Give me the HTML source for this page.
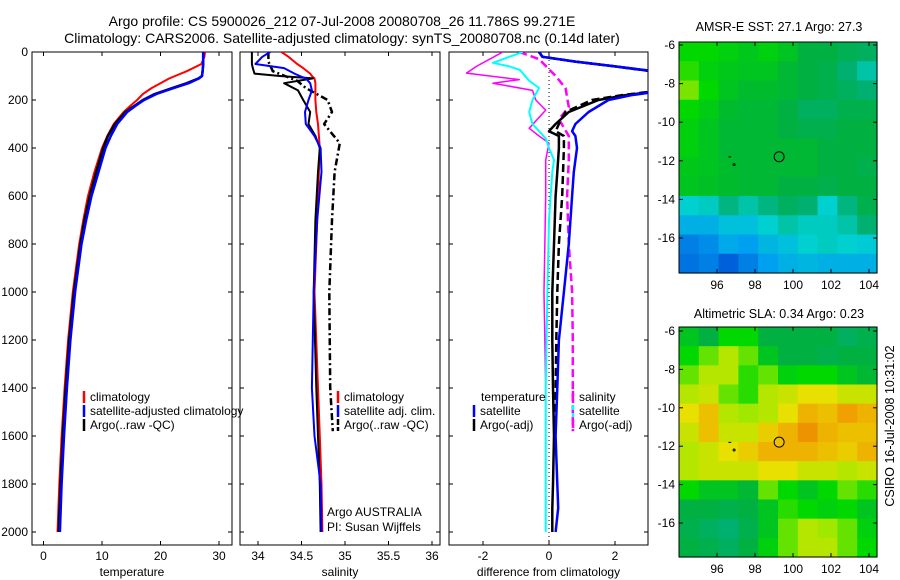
<!DOCTYPE html>
<html><head><meta charset="utf-8"><style>
body{margin:0;background:#fff;}
svg{display:block;font-family:"Liberation Sans",sans-serif;}
</style></head><body>
<svg id="c" width="900" height="580" viewBox="0 0 900 580" xmlns="http://www.w3.org/2000/svg">
<text x="342" y="26" font-size="14" text-anchor="middle">Argo profile: CS 5900026_212 07-Jul-2008 20080708_26 11.786S 99.271E</text>
<text x="342" y="43" font-size="14" text-anchor="middle">Climatology: CARS2006. Satellite-adjusted climatology: synTS_20080708.nc (0.14d later)</text>
<text x="779" y="31" font-size="12.5" text-anchor="middle">AMSR-E SST: 27.1 Argo: 27.3</text>
<text x="779" y="318" font-size="12.5" text-anchor="middle">Altimetric SLA: 0.34 Argo: 0.23</text>
<text transform="translate(894,426) rotate(-90)" font-size="12.5" text-anchor="middle">CSIRO 16-Jul-2008 10:31:02</text>
<g id="g"></g>
</svg>
<script>
// ---- data ----
const depthT = [0,20,50,80,100,110,130,150,175,200,225,250,300,350,400,500,600,700,800,1000,1200,1400,1600,1800,2000];
const tempArgo = [27.3,27.3,27.3,27.2,27.1,26.5,24.5,22,19,17,15.5,14,12.2,11,10.2,9,7.9,7,6.3,5.2,4.4,3.8,3.3,2.9,2.6];
const tempClim = [27.6,27.5,27,24.5,22.5,21.5,20,18.5,17,16,14.8,13.7,12,10.9,10,8.7,7.6,6.8,6.1,5,4.2,3.6,3.1,2.7,2.4];
const tempSat = [27.3,27.3,27.3,27.2,27.1,26.6,24.8,22.3,19.3,17.2,15.7,14.3,12.6,11.5,10.6,9.4,8.2,7.3,6.5,5.4,4.6,4,3.5,3.1,2.8];

const depthS = [0,20,50,67,90,100,110,130,160,200,250,300,350,400,500,700,1000,1400,1600,1800,2000];
const salClim = [34.27,34.35,34.45,34.52,34.6,34.62,34.65,34.66,34.66,34.66,34.67,34.69,34.7,34.71,34.7,34.68,34.65,34.69,34.71,34.73,34.74];
const salSat = [34.14,34.05,33.97,34.3,34.42,34.48,34.55,34.6,34.62,34.58,34.54,34.55,34.65,34.72,34.73,34.68,34.64,34.62,34.65,34.72,34.73];
const salArgo = [33.93,33.93,33.93,33.94,33.96,34.25,34.63,34.3,34.46,34.52,34.6,34.58,34.66,34.71,34.69,34.66,34.64,34.67,34.69,34.71,34.72];
const depthSR = [0,40,80,120,150,200,250,300,380,500,700,1000,1400,1580];
const salRaw = [34.12,34.12,34.17,34.45,34.55,34.8,34.85,34.76,34.94,34.88,34.85,34.82,34.83,34.86];

const depthD = [0,20,40,60,80,100,150,170,180,200,250,300,330,350,400,500,600,800,1000,1200,1400,1600,1800,1900,2000];
const dTsat = [-0.3,-0.2,0.8,2,3.2,4,4,3,2.5,1.8,1.2,0.8,0.7,0.8,0.85,0.75,0.7,0.6,0.45,0.3,0.25,0.2,0.25,0.28,0.2];
const dTargo = [-0.3,-0.2,0.8,2,3.1,4,4,2.9,2.3,1.5,0.6,0.2,0.0,0.3,0.3,0.25,0.2,0.15,0.1,0.1,0.12,0.15,0.12,0.1,0.1];
const depthDR = [0,20,40,60,80,100,150,170,180,200,250,300,330,350,400,600,800,1000,1200,1400,1580];
const dTraw = [-0.3,-0.2,0.8,2,3.1,4,4,2.8,2.2,1.3,0.5,0.3,0.2,0.45,0.45,0.4,0.3,0.25,0.22,0.2,0.2];
const depthC = [0,20,45,60,75,120,150,200,250,300,330,360,400,450,500,700,1000,1400,1800,2000];
const dSsat = [-0.8,-1.2,-1.7,-1.2,-0.88,-0.6,-0.3,-0.5,-0.6,-0.5,-0.3,-0.1,0.0,0.15,0.1,0.0,-0.05,-0.1,-0.1,-0.1];
const depthM = [0,30,60,88,115,130,160,200,242,318,350,380,450,600,1000,1400,1580];
const dSargo = [-1.4,-1.8,-2.2,-2.5,-0.9,-1.7,-0.5,-0.4,-0.1,-0.6,-0.3,0.0,-0.1,-0.1,-0.15,-0.1,-0.1];
const depthMD = [0,30,100,150,229,280,350,450,600,800,1000,1200,1580];
const dSraw = [-0.9,-0.3,0.2,0.5,0.6,0.3,0.6,0.6,0.55,0.6,0.7,0.72,0.72];

const sstGrid = [
[0.6,0.6,0.58,0.56,0.58,0.55,0.5,0.5,0.47,0.45],
[0.62,0.58,0.56,0.55,0.55,0.52,0.5,0.48,0.42,0.35],
[0.66,0.6,0.55,0.53,0.53,0.52,0.5,0.48,0.45,0.42],
[0.6,0.57,0.53,0.52,0.52,0.5,0.45,0.45,0.48,0.48],
[0.58,0.55,0.52,0.52,0.52,0.5,0.48,0.48,0.5,0.5],
[0.58,0.55,0.52,0.52,0.52,0.52,0.52,0.5,0.5,0.5],
[0.56,0.55,0.53,0.52,0.52,0.52,0.52,0.5,0.5,0.48],
[0.55,0.54,0.53,0.52,0.52,0.5,0.5,0.48,0.5,0.5],
[0.3,0.32,0.4,0.35,0.4,0.45,0.42,0.3,0.4,0.48],
[0.2,0.2,0.25,0.25,0.3,0.35,0.32,0.32,0.35,0.42],
[0.1,0.12,0.18,0.15,0.22,0.25,0.3,0.32,0.3,0.28],
[0.08,0.1,0.05,0.1,0.15,0.2,0.22,0.2,0.2,0.2]];
const slaGrid = [
[0.55,0.5,0.6,0.6,0.5,0.5,0.5,0.5,0.45,0.48],
[0.6,0.65,0.7,0.65,0.55,0.5,0.5,0.48,0.5,0.5],
[0.65,0.7,0.7,0.62,0.65,0.58,0.6,0.6,0.55,0.52],
[0.7,0.72,0.65,0.62,0.7,0.72,0.75,0.75,0.72,0.72],
[0.75,0.8,0.7,0.68,0.7,0.75,0.82,0.8,0.85,0.82],
[0.72,0.8,0.72,0.72,0.78,0.82,0.88,0.82,0.8,0.8],
[0.7,0.72,0.75,0.78,0.82,0.82,0.82,0.8,0.78,0.82],
[0.7,0.72,0.72,0.72,0.75,0.75,0.72,0.72,0.7,0.72],
[0.6,0.55,0.55,0.52,0.65,0.6,0.55,0.6,0.65,0.62],
[0.5,0.5,0.48,0.5,0.55,0.62,0.6,0.58,0.6,0.55],
[0.48,0.45,0.42,0.48,0.55,0.65,0.7,0.68,0.65,0.58],
[0.5,0.48,0.45,0.5,0.58,0.65,0.7,0.7,0.65,0.6]];
const yTicksDepth = [0,200,400,600,800,1000,1200,1400,1600,1800,2000];
const xTicksT = [0,10,20,30];
const xTicksS = [34,34.5,35,35.5,36];
const xTicksD = [-2,0,2];
const lonTicks = [96,98,100,102,104];
const latTicks = [-6,-8,-10,-12,-14,-16];

// ---- helpers ----
const NS='http://www.w3.org/2000/svg';
const G=document.getElementById('g');
function mk(tag,at,txt){const e=document.createElementNS(NS,tag);for(const k in at)e.setAttribute(k,at[k]);if(txt!==undefined)e.textContent=txt;G.appendChild(e);return e;}
const top0=52,bot=545;
const yD=d=>top0+d*0.24;
function lin(d0,d1,r0,r1){return v=>r0+(v-d0)*(r1-r0)/(d1-d0);}
const panels=[
 {x0:32,x1:232,sx:lin(0,30,43.5,219),ticks:xTicksT,lab:'temperature',fmt:v=>v},
 {x0:240,x1:440,sx:lin(34,36,258,432),ticks:xTicksS,lab:'salinity',fmt:v=>v},
 {x0:449,x1:648,sx:lin(-2,2,483,615),ticks:xTicksD,lab:'difference from climatology',fmt:v=>v}];
function clipDef(id,x0,x1){
  let defs=document.querySelector('defs');
  if(!defs){defs=document.createElementNS(NS,'defs');document.getElementById('c').prepend(defs);}
  const cp=document.createElementNS(NS,'clipPath');cp.setAttribute('id',id);
  const r=document.createElementNS(NS,'rect');r.setAttribute('x',x0);r.setAttribute('y',top0);r.setAttribute('width',x1-x0);r.setAttribute('height',bot-top0);
  cp.appendChild(r);defs.appendChild(cp);
}
panels.forEach((p,i)=>{
  clipDef('cp'+i,p.x0,p.x1);
  const b=mk('rect',{x:p.x0,y:top0,width:p.x1-p.x0,height:bot-top0,fill:'none',stroke:'#000','stroke-width':1});
  
  
  p.ticks.forEach(v=>{
    const x=p.sx(v);
    mk('line',{x1:x,x2:x,y1:bot,y2:bot-4,stroke:'#000'});
    mk('line',{x1:x,x2:x,y1:top0,y2:top0+4,stroke:'#000'});
    const t=mk('text',{x:x,y:bot+15,'font-size':12,'text-anchor':'middle'},String(p.fmt(v)));
    
    
  });
  const xl=mk('text',{x:(p.x0+p.x1)/2,y:576,'font-size':12,'text-anchor':'middle'},p.lab);
  
  
  yTicksDepth.forEach(d=>{
    const y=yD(d);
    mk('line',{x1:p.x0,x2:p.x0+4,y1:y,y2:y,stroke:'#000'});
    mk('line',{x1:p.x1,x2:p.x1-4,y1:y,y2:y,stroke:'#000'});
  });
});
yTicksDepth.forEach(d=>{
  const t=mk('text',{x:28,y:yD(d)+4,'font-size':12,'text-anchor':'end'},String(d));
  
  
});
mk('line',{x1:panels[2].sx(0),x2:panels[2].sx(0),y1:top0,y2:bot,stroke:'#000','stroke-dasharray':'1,3','stroke-width':1});

function series(pi,depths,vals,color,w,dash,name){
  const p=panels[pi];
  const pts=depths.map((d,k)=>p.sx(vals[k]).toFixed(1)+','+yD(d).toFixed(1)).join(' ');
  const e=mk('polyline',{points:pts,fill:'none',stroke:color,'stroke-width':w,'clip-path':'url(#cp'+pi+')','stroke-dasharray':dash||'none','stroke-linejoin':'round'});
  
  
}
series(0,depthT,tempClim,'#f00',2,null,'temp-climatology-line');
series(0,depthT,tempArgo,'#000',2.5,null,'temp-argo-line');
series(0,depthT,tempSat,'#00f',2.5,null,'temp-satellite-line');
series(1,depthSR,salRaw,'#000',2.5,'7,3,2,3','salinity-argo-raw-line');
series(1,depthS,salClim,'#f00',2,null,'salinity-climatology-line');
series(1,depthS,salArgo,'#000',2,null,'salinity-argo-line');
series(1,depthS,salSat,'#00f',2,null,'salinity-satellite-line');
series(2,depthMD,dSraw,'#f0f',2.5,'8,4','diff-salinity-argo-dashed');
series(2,depthM,dSargo,'#f0f',1.5,null,'diff-salinity-argo-line');
series(2,depthDR,dTraw,'#000',2.5,'8,4','diff-temp-argo-dashed');
series(2,depthD,dTargo,'#000',2.5,null,'diff-temp-argo-line');
series(2,depthD,dTsat,'#00f',2.5,null,'diff-temp-satellite-line');
series(2,depthC,dSsat,'#0ff',2,null,'diff-salinity-satellite-line');

function legend(x,y,color,label,dash,name){
  const l=mk('line',{x1:x,x2:x,y1:y-10,y2:y+2,stroke:color,'stroke-width':2.5,'stroke-dasharray':dash||'none'});
  
  
  const t=mk('text',{x:x+6,y:y,'font-size':12},label);
  
  
}
legend(84,401,'#f00','climatology',null,'legend-climatology');
legend(84,415,'#00f','satellite-adjusted climatology',null,'legend-satellite-adjusted');
legend(84,429,'#000','Argo(..raw -QC)',null,'legend-argo');
legend(338,401,'#f00','climatology',null,'legend-sal-climatology');
legend(338,415,'#00f','satellite adj. clim.',null,'legend-sal-satellite');
legend(338,429,'#000','Argo(..raw -QC)','6,2','legend-sal-argo');
const tt=mk('text',{x:481,y:401,'font-size':12},'temperature');


legend(474,415,'#00f','satellite',null,'legend-diff-temp-satellite');
legend(474,429,'#000','Argo(-adj)',null,'legend-diff-temp-argo');
legend(573,401,'#f0f','salinity','5,3','legend-diff-salinity');
legend(573,415,'#0ff','satellite','5,3','legend-diff-sal-satellite');
legend(573,429,'#f0f','Argo(-adj)','4,1','legend-diff-sal-argo');
const a1=mk('text',{x:327,y:516,'font-size':12},'Argo AUSTRALIA');


const a2=mk('text',{x:327,y:531,'font-size':12},'PI: Susan Wijffels');



// ---- maps ----
const stops=[[0,[0,64,208]],[0.15,[0,160,240]],[0.3,[0,208,208]],[0.42,[0,176,112]],[0.5,[0,176,64]],[0.6,[0,216,0]],[0.68,[160,232,0]],[0.75,[232,224,0]],[0.85,[240,160,0]],[1,[224,96,0]]];
function cmap(v){
  for(let i=1;i<stops.length;i++){if(v<=stops[i][0]){const a=stops[i-1],b=stops[i];const f=(v-a[0])/(b[0]-a[0]);return 'rgb('+a[1].map((c,k)=>Math.round(c+(b[1][k]-c)*f)).join(',')+')';}}
  return 'rgb(224,96,0)';
}
function map(m){
  const sx=lin(96,104,717,869), sy=lin(-6,-16,m.y6,m.y16);
  const nr=m.grid.length,nc=m.grid[0].length;
  const cw=(m.x1-m.x0)/nc, ch=(m.yb-m.yt)/nr;
  m.grid.forEach((row,r)=>row.forEach((v,c)=>{
    const e=mk('rect',{x:(m.x0+c*cw).toFixed(2),y:(m.yt+r*ch).toFixed(2),width:(cw+0.6).toFixed(2),height:(ch+0.6).toFixed(2),fill:cmap(v)});
    
    
  }));
  const b=mk('rect',{x:m.x0,y:m.yt,width:m.x1-m.x0,height:m.yb-m.yt,fill:'none',stroke:'#000'});
  
  
  lonTicks.forEach(v=>{const x=sx(v);mk('line',{x1:x,x2:x,y1:m.yb,y2:m.yb-4,stroke:'#000'});mk('line',{x1:x,x2:x,y1:m.yt,y2:m.yt+4,stroke:'#000'});
    const t=mk('text',{x:x,y:m.yb+16,'font-size':12,'text-anchor':'middle'},String(v));});
  latTicks.forEach(v=>{const y=sy(v);mk('line',{x1:m.x0,x2:m.x0+4,y1:y,y2:y,stroke:'#000'});mk('line',{x1:m.x1,x2:m.x1-4,y1:y,y2:y,stroke:'#000'});
    const t=mk('text',{x:m.x0-4,y:y+4,'font-size':12,'text-anchor':'end'},String(v));});
  const c=mk('circle',{cx:sx(99.27),cy:sy(-11.79),r:5,fill:m.mark,stroke:'#000','stroke-width':1});
  
  
  mk('line',{x1:sx(96.6),x2:sx(96.75),y1:sy(-11.8),y2:sy(-11.8),stroke:'#000'});
  mk('circle',{cx:sx(96.9),cy:sy(-12.2),r:1,fill:'none',stroke:'#000'});
}
map({grid:sstGrid,x0:679,x1:877,yt:42,yb:273,y6:45,y16:238,mark:'none',name:'sst-map'});
map({grid:slaGrid,x0:679,x1:877,yt:327,yb:557,y6:331,y16:523,mark:'#f0c000',name:'sla-map'});
</script>
</body></html>
